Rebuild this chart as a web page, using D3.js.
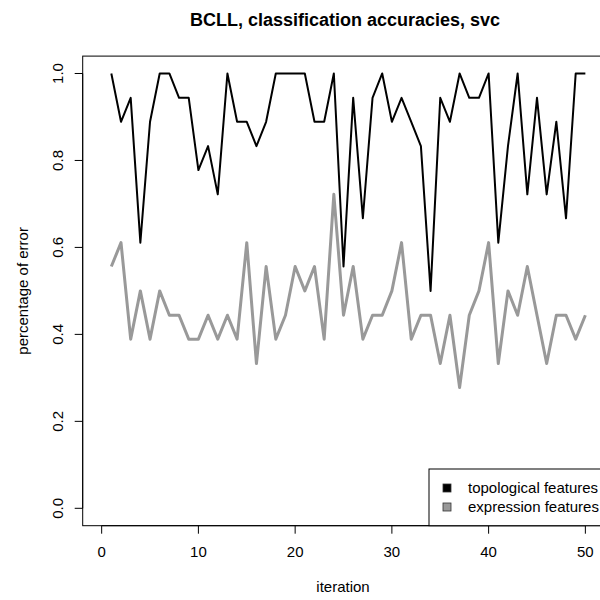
<!DOCTYPE html>
<html>
<head>
    <meta charset="utf-8" />
    <title>BCLL, classification accuracies, svc</title>
    <style>
        body { margin: 0; background: #ffffff; }
        svg { display: block; font-family: "Liberation Sans", Arial, sans-serif; }
        .tick-label { font-size: 15px; fill: #000000; }
        .axis-title { font-size: 15px; fill: #000000; }
        .main-title { font-size: 18px; font-weight: bold; fill: #000000; }
        .legend-text { font-size: 15px; fill: #000000; }
    </style>
    <script src="https://cdn.jsdelivr.net/npm/d3@7"></script>
</head>
<body>
    <svg width="600" height="600"></svg>

    <script>
        // accuracy per iteration, one value per run
        var iterations = d3.range(1, 51);
        var topological = [
            1.000, 0.889, 0.944, 0.611, 0.889, 1.000, 1.000, 0.944, 0.944, 0.778,
            0.833, 0.722, 1.000, 0.889, 0.889, 0.833, 0.889, 1.000, 1.000, 1.000,
            1.000, 0.889, 0.889, 1.000, 0.556, 0.944, 0.667, 0.944, 1.000, 0.889,
            0.944, 0.889, 0.833, 0.500, 0.944, 0.889, 1.000, 0.944, 0.944, 1.000,
            0.611, 0.833, 1.000, 0.722, 0.944, 0.722, 0.889, 0.667, 1.000, 1.000
        ];
        var expression = [
            0.556, 0.611, 0.389, 0.500, 0.389, 0.500, 0.444, 0.444, 0.389, 0.389,
            0.444, 0.389, 0.444, 0.389, 0.611, 0.333, 0.556, 0.389, 0.444, 0.556,
            0.500, 0.556, 0.389, 0.722, 0.444, 0.556, 0.389, 0.444, 0.444, 0.500,
            0.611, 0.389, 0.444, 0.444, 0.333, 0.444, 0.278, 0.444, 0.500, 0.611,
            0.333, 0.500, 0.444, 0.556, 0.444, 0.333, 0.444, 0.444, 0.389, 0.444
        ];
        var xTicks = [0, 10, 20, 30, 40, 50];
        var yTicks = [0, 0.2, 0.4, 0.6, 0.8, 1.0];
        var seriesNames = ['topological features', 'expression features'];
        var seriesColors = ['#000000', '#999999'];

        var svg = d3.select('svg');

        // plot region (right edge runs past the canvas)
        var box = { left: 82.7, right: 614, top: 56.1, bottom: 525.7 };

        var x = d3.scaleLinear()
            .domain([-1.96, 52.96])
            .range([box.left, box.right]);

        var y = d3.scaleLinear()
            .domain([-0.04, 1.04])
            .range([box.bottom, box.top]);

        svg.append('rect')
            .attr('x', box.left)
            .attr('y', box.top)
            .attr('width', box.right - box.left)
            .attr('height', box.bottom - box.top)
            .attr('fill', 'none')
            .attr('stroke', '#000000')
            .attr('stroke-width', 1);

        // x axis
        var xAxis = svg.append('g');
        xAxis.append('line')
            .attr('x1', x(xTicks[0])).attr('x2', x(xTicks[xTicks.length - 1]))
            .attr('y1', box.bottom).attr('y2', box.bottom)
            .attr('stroke', '#000000');
        xAxis.selectAll('.xt')
            .data(xTicks)
            .enter().append('line')
                .attr('x1', function(d) { return x(d); })
                .attr('x2', function(d) { return x(d); })
                .attr('y1', box.bottom)
                .attr('y2', box.bottom + 8)
                .attr('stroke', '#000000');
        xAxis.selectAll('text')
            .data(xTicks)
            .enter().append('text')
                .attr('class', 'tick-label')
                .attr('x', function(d) { return x(d); })
                .attr('y', 557)
                .attr('text-anchor', 'middle')
                .text(function(d) { return d; });

        // y axis
        var yAxis = svg.append('g');
        yAxis.append('line')
            .attr('x1', box.left).attr('x2', box.left)
            .attr('y1', y(yTicks[0])).attr('y2', y(yTicks[yTicks.length - 1]))
            .attr('stroke', '#000000');
        yAxis.selectAll('.yt')
            .data(yTicks)
            .enter().append('line')
                .attr('x1', box.left - 8)
                .attr('x2', box.left)
                .attr('y1', function(d) { return y(d); })
                .attr('y2', function(d) { return y(d); })
                .attr('stroke', '#000000');
        yAxis.selectAll('text')
            .data(yTicks)
            .enter().append('text')
                .attr('class', 'tick-label')
                .attr('transform', function(d) { return 'translate(62.5,' + y(d) + ') rotate(-90)'; })
                .attr('text-anchor', 'middle')
                .text(function(d) { return d3.format('.1f')(d); });

        // series
        var line = d3.line()
            .x(function(d, i) { return x(iterations[i]); })
            .y(function(d) { return y(d); });

        svg.append('path')
            .datum(expression)
            .attr('d', line)
            .attr('fill', 'none')
            .attr('stroke', seriesColors[1])
            .attr('stroke-width', 3)
            .attr('stroke-linejoin', 'round');

        svg.append('path')
            .datum(topological)
            .attr('d', line)
            .attr('fill', 'none')
            .attr('stroke', seriesColors[0])
            .attr('stroke-width', 2)
            .attr('stroke-linejoin', 'round');

        // titles
        svg.append('text')
            .attr('class', 'main-title')
            .attr('x', 345)
            .attr('y', 26)
            .attr('text-anchor', 'middle')
            .text('BCLL, classification accuracies, svc');

        svg.append('text')
            .attr('class', 'axis-title')
            .attr('x', 343)
            .attr('y', 592)
            .attr('text-anchor', 'middle')
            .text('iteration');

        svg.append('text')
            .attr('class', 'axis-title')
            .attr('transform', 'translate(27.5,' + ((box.top + box.bottom) / 2) + ') rotate(-90)')
            .attr('text-anchor', 'middle')
            .text('percentage of error');

        // legend, bottom right of plot region
        var legend = svg.append('g');
        legend.append('rect')
            .attr('x', 429)
            .attr('y', 469)
            .attr('width', box.right - 429)
            .attr('height', box.bottom - 469)
            .attr('fill', '#ffffff')
            .attr('stroke', '#000000');

        var items = legend.selectAll('.item')
            .data(seriesNames)
            .enter().append('g')
                .attr('transform', function(d, i) { return 'translate(0,' + (488 + i * 19) + ')'; });
        items.append('rect')
            .attr('x', 443)
            .attr('y', -4)
            .attr('width', 8)
            .attr('height', 8)
            .attr('fill', function(d, i) { return seriesColors[i]; })
            .attr('stroke', '#333333')
            .attr('stroke-width', 0.8);
        items.append('text')
            .attr('class', 'legend-text')
            .attr('x', 468)
            .attr('y', 5)
            .text(function(d) { return d; });
    </script>
</body>
</html>
